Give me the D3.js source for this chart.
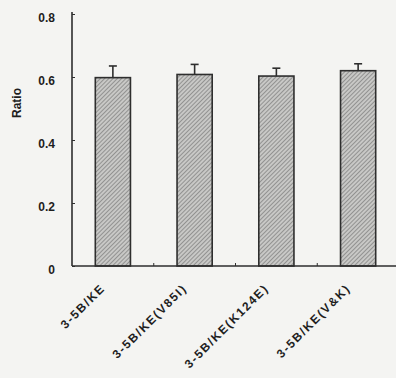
<!DOCTYPE html>
<html>
<head>
<meta charset="utf-8">
<script src="https://cdn.jsdelivr.net/npm/d3@7"></script>
<style>
  html, body { margin: 0; padding: 0; background: #f4f4f2; }
  svg { display: block; }
  text { font-family: "Liberation Sans", Arial, sans-serif; font-weight: bold; fill: #1e1e1e; }
</style>
</head>
<body>
<svg id="chart" width="396" height="378"></svg>
<script>
// Measured ratios per construct, with the upper end of each error bar
const categories = ["3-5B/KE", "3-5B/KE(V85I)", "3-5B/KE(K124E)", "3-5B/KE(V&K)"];
const ratios = [0.598, 0.608, 0.603, 0.620];
const errorTops = [0.635, 0.640, 0.628, 0.642];
const yTicks = [0, 0.2, 0.4, 0.6, 0.8];
const yTickLabels = ["0", "0.2", "0.4", "0.6", "0.8"];

const svg = d3.select("#chart");
const margin = { left: 72, top: 14, bottom: 112 };
const width = 396, height = 378;

const x = d3.scaleBand()
  .domain(categories)
  .range([margin.left, 399])
  .paddingInner(0.57)
  .paddingOuter(0.285);

const y = d3.scaleLinear()
  .domain([0, 0.8])
  .range([height - margin.bottom, margin.top]);

// Diagonal hatch fill for the bars
const defs = svg.append("defs");
const pat = defs.append("pattern")
  .attr("id", "hatch")
  .attr("patternUnits", "userSpaceOnUse")
  .attr("width", 3).attr("height", 3)
  .attr("patternTransform", "rotate(45)");
pat.append("rect").attr("width", 3).attr("height", 3).attr("fill", "#c8c8c6");
pat.append("line").attr("x1", 0).attr("y1", 0).attr("x2", 0).attr("y2", 3)
  .attr("stroke", "#6e6e6e").attr("stroke-width", 1.2);

// Bars
svg.selectAll("rect.bar")
  .data(categories)
  .join("rect")
  .attr("class", "bar")
  .attr("x", d => x(d))
  .attr("width", x.bandwidth())
  .attr("y", (d, i) => y(ratios[i]))
  .attr("height", (d, i) => y(0) - y(ratios[i]))
  .attr("fill", "url(#hatch)")
  .attr("stroke", "#2e2e2e")
  .attr("stroke-width", 1.6);

// Error bars (upper half only)
const cap = 4;
const eb = svg.selectAll("g.err").data(categories).join("g").attr("class", "err");
eb.append("line")
  .attr("x1", d => x(d) + x.bandwidth() / 2)
  .attr("x2", d => x(d) + x.bandwidth() / 2)
  .attr("y1", (d, i) => y(ratios[i]))
  .attr("y2", (d, i) => y(errorTops[i]))
  .attr("stroke", "#2e2e2e").attr("stroke-width", 1.6);
eb.append("line")
  .attr("x1", d => x(d) + x.bandwidth() / 2 - cap)
  .attr("x2", d => x(d) + x.bandwidth() / 2 + cap)
  .attr("y1", (d, i) => y(errorTops[i]))
  .attr("y2", (d, i) => y(errorTops[i]))
  .attr("stroke", "#2e2e2e").attr("stroke-width", 1.6);

// Y axis
const yAxis = d3.axisLeft(y)
  .tickValues(yTicks)
  .tickFormat((d, i) => yTickLabels[i])
  .tickSizeInner(-3)
  .tickSizeOuter(0)
  .tickPadding(17);
const gy = svg.append("g")
  .attr("transform", `translate(${margin.left},0)`)
  .call(yAxis);
gy.select(".domain").attr("stroke", "#2e2e2e").attr("stroke-width", 1.6)
  .attr("d", `M0,${y(0)}V${margin.top - 2}`);
gy.selectAll(".tick line").attr("stroke", "#2e2e2e");
gy.selectAll(".tick text").attr("font-size", 12).attr("fill", "#1e1e1e").attr("dy", "0.62em");

// X axis with ticks between bars
const xAxis = d3.axisBottom(x).tickSize(0).tickPadding(0).tickFormat("");
const gx = svg.append("g")
  .attr("transform", `translate(0,${y(0)})`)
  .call(xAxis);
gx.select(".domain").attr("stroke", "#2e2e2e").attr("stroke-width", 1.6)
  .attr("d", `M${margin.left},0H${width}`);
const step = x.step();
gx.selectAll("line.sep")
  .data(categories.slice(1))
  .join("line")
  .attr("class", "sep")
  .attr("x1", d => x(d) - (step - x.bandwidth()) / 2)
  .attr("x2", d => x(d) - (step - x.bandwidth()) / 2)
  .attr("y1", 0).attr("y2", -3)
  .attr("stroke", "#2e2e2e");

// Rotated category labels
svg.selectAll("text.cat")
  .data(categories)
  .join("text")
  .attr("class", "cat")
  .attr("text-anchor", "end")
  .attr("font-size", 12)
  .attr("letter-spacing", 1.6)
  .attr("transform", d => `translate(${x(d) + x.bandwidth() / 2 - 7},${y(0) + 23}) rotate(-45)`)
  .text(d => d);

// Y axis title
svg.append("text")
  .attr("text-anchor", "middle")
  .attr("font-size", 12)
  .attr("transform", `translate(21,103) rotate(-90)`)
  .text("Ratio");
</script>
</body>
</html>
